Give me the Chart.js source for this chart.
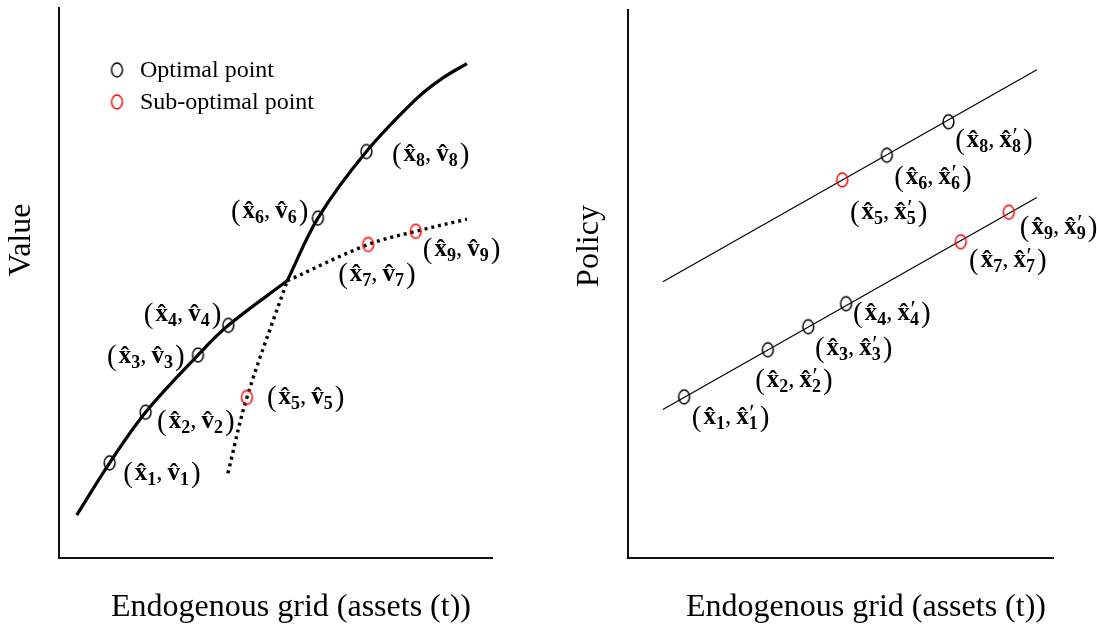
<!DOCTYPE html>
<html>
<head>
<meta charset="utf-8">
<title>Endogenous grid: value and policy</title>
<script src="https://cdn.jsdelivr.net/npm/chart.js@4.4.1/dist/chart.umd.min.js"></script>
<style>
  html, body { margin: 0; padding: 0; background: #fff; }
  #wrap { position: relative; width: 1097px; height: 629px; }
  .panel { position: absolute; top: 0; height: 629px; }
  #value-panel { left: 0; width: 560px; }
  #policy-panel { left: 560px; width: 537px; }
</style>
</head>
<body>
<div id="wrap">
  <div class="panel" id="value-panel"><canvas id="value-chart"></canvas></div>
  <div class="panel" id="policy-panel"><canvas id="policy-chart"></canvas></div>
</div>
<script>
// Value panel: the two solid branches of the upper envelope
const valueLowX = [0.41, 1.17, 2.00, 3.21, 3.91, 5.27];
const valueLowY = [0.78, 1.73, 2.65, 3.69, 4.23, 5.04];
const valueHighX = [5.27, 5.98, 7.10, 8.27, 8.85, 9.42];
const valueHighY = [5.04, 6.18, 7.39, 8.36, 8.72, 8.99];
// ...and the dotted (dominated) continuations
const valueSteepX = [3.90, 4.34, 5.27];
const valueSteepY = [1.54, 2.92, 5.04];
const valueFlatX = [5.27, 7.14, 8.24, 9.42];
const valueFlatY = [5.04, 5.70, 5.94, 6.16];

// grid points on the value panel
const valueOptIdx = [1, 2, 3, 4, 6, 8];
const valueOptX = [1.17, 2.00, 3.21, 3.91, 5.98, 7.10];
const valueOptY = [1.73, 2.65, 3.69, 4.23, 6.18, 7.39];
const valueSubIdx = [5, 7, 9];
const valueSubX = [4.34, 7.14, 8.24];
const valueSubY = [2.92, 5.70, 5.94];

// Policy panel: two parallel policy lines
const policyUpperX = [0.82, 9.62];
const policyUpperY = [5.04, 8.91];
const policyLowerX = [0.82, 9.62];
const policyLowerY = [2.71, 6.58];

const policyOptIdx = [1, 2, 3, 4, 6, 8];
const policyOptX = [1.32, 3.29, 4.24, 5.13, 6.09, 7.54];
const policyOptY = [2.94, 3.80, 4.22, 4.64, 7.35, 7.96];
const policySubIdx = [5, 7, 9];
const policySubX = [5.04, 7.83, 8.96];
const policySubY = [6.90, 5.77, 6.31];

const legendNames = ['Optimal point', 'Sub-optimal point'];
const xTitle = 'Endogenous grid (assets (t))';

const serif = '"Liberation Serif", "Times New Roman", serif';
const ink = '#000';
const red = '#ff0000';

const pts = (xs, ys) => xs.map((x, i) => ({ x, y: ys[i] }));

// hollow ellipse used as the point marker
function ringMarker(color) {
    const c = document.createElement('canvas');
    c.width = 15;
    c.height = 18;
    const g = c.getContext('2d');
    g.strokeStyle = color;
    g.lineWidth = 1.5;
    g.beginPath();
    g.ellipse(7.5, 9, 5.4, 6.9, 0, 0, Math.PI * 2);
    g.stroke();
    return c;
}
const ringBlack = ringMarker(ink);
const ringRed = ringMarker(red);

// "(x̂n, v̂n)" style tag, drawn piece by piece
function drawTag(ctx, x, y, n, letter, prime) {
    const base = y + 7;
    let cx = x;
    ctx.save();
    ctx.fillStyle = ink;
    ctx.textBaseline = 'alphabetic';
    ctx.textAlign = 'left';
    const put = (txt, font, dy) => {
        ctx.font = font;
        ctx.fillText(txt, cx, base + dy);
        cx += ctx.measureText(txt).width;
    };
    const hatted = (ch) => {
        ctx.font = 'bold 25px ' + serif;
        const w = ctx.measureText(ch).width;
        ctx.fillText(ch, cx, base);
        ctx.textAlign = 'center';
        ctx.fillText('\u02C6', cx + w / 2, base + 1);
        ctx.textAlign = 'left';
        cx += w;
    };
    const sub = 'bold 18px ' + serif;
    put('(', '29px ' + serif, 2);
    cx += 2;
    hatted('x');
    put(String(n), sub, 5);
    put(',', '25px ' + serif, 0);
    cx += 5;
    hatted(letter);
    if (prime) {
        ctx.font = '24px ' + serif;
        ctx.fillText('\u2032', cx + 0.5, base - 4);
    }
    put(String(n), sub, 5);
    cx += 2;
    put(')', '29px ' + serif, 2);
    ctx.restore();
}

const pointTags = {
    id: 'pointTags',
    afterDatasetsDraw(chart, args, opts) {
        chart.data.datasets.forEach((ds, di) => {
            if (!ds.tagIdx) return;
            chart.getDatasetMeta(di).data.forEach((pt, i) => {
                const n = ds.tagIdx[i];
                const off = opts.offsets[n];
                drawTag(chart.ctx, pt.x + off[0], pt.y + off[1], n, opts.letter, opts.prime);
            });
        });
    }
};

// axis titles and the inline legend
const panelText = {
    id: 'panelText',
    afterDraw(chart, args, opts) {
        const ctx = chart.ctx;
        ctx.save();
        ctx.fillStyle = ink;
        ctx.textBaseline = 'middle';
        ctx.textAlign = 'center';
        ctx.font = '32px ' + serif;
        ctx.fillText(xTitle, opts.xTitleAt[0], opts.xTitleAt[1]);
        ctx.translate(opts.yTitleAt[0], opts.yTitleAt[1]);
        ctx.rotate(-Math.PI / 2);
        ctx.font = '32px ' + serif;
        ctx.fillText(opts.yTitle, 0, 0);
        ctx.restore();

        if (!opts.legendAt) return;
        ctx.save();
        ctx.fillStyle = ink;
        ctx.textBaseline = 'middle';
        ctx.font = '24px ' + serif;
        const [lx, ly] = opts.legendAt;
        [ringBlack, ringRed].forEach((img, i) => {
            const y = ly + i * 32;
            ctx.drawImage(img, lx - img.width / 2, y - img.height / 2);
            ctx.fillText(legendNames[i], lx + 23, y + 1);
        });
        ctx.restore();
    }
};

function axes() {
    const edge = { display: true, color: '#111', width: 2 };
    const common = {
        type: 'linear', min: 0, max: 10,
        ticks: { display: false },
        grid: { display: false, drawTicks: false },
        border: edge
    };
    return { x: { ...common }, y: { ...common } };
}

function lineSet(xs, ys, width, dash) {
    return {
        data: pts(xs, ys),
        showLine: true,
        borderColor: ink,
        borderWidth: width,
        borderDash: dash || [],
        borderCapStyle: 'butt',
        tension: 0.35,
        pointRadius: 0,
        fill: false
    };
}

function markSet(xs, ys, idx, img) {
    return {
        data: pts(xs, ys),
        tagIdx: idx,
        showLine: false,
        pointStyle: img,
        pointRadius: 7
    };
}

document.addEventListener('DOMContentLoaded', () => {
    if (typeof Chart === 'undefined') {
        console.error('Chart.js not loaded');
        return;
    }
    Chart.defaults.font.family = serif;
    createValueChart();
    createPolicyChart();
});

function createValueChart() {
    new Chart(document.getElementById('value-chart'), {
        type: 'scatter',
        data: {
            datasets: [
                markSet(valueOptX, valueOptY, valueOptIdx, ringBlack),
                markSet(valueSubX, valueSubY, valueSubIdx, ringRed),
                lineSet(valueLowX, valueLowY, 3.2),
                lineSet(valueHighX, valueHighY, 3.2),
                lineSet(valueSteepX, valueSteepY, 3.4, [3, 4]),
                lineSet(valueFlatX, valueFlatY, 3.4, [3, 4])
            ]
        },
        options: {
            responsive: true,
            maintainAspectRatio: false,
            animation: false,
            events: [],
            layout: { padding: { left: 59, right: 68, top: 6, bottom: 71 } },
            scales: axes(),
            plugins: {
                legend: { display: false },
                tooltip: { enabled: false },
                pointTags: {
                    letter: 'v',
                    prime: false,
                    offsets: {
                        1: [13.5, 10.5], 2: [11.5, 8.5], 3: [-91, 0.5],
                        4: [-84.5, -11.5], 5: [20, 0], 6: [-87, -7],
                        7: [-30, 29.5], 8: [25.5, 2], 9: [7, 18]
                    }
                },
                panelText: {
                    xTitleAt: [291, 608],
                    yTitleAt: [22, 240],
                    yTitle: 'Value',
                    legendAt: [117, 70]
                }
            }
        },
        plugins: [pointTags, panelText]
    });
}

function createPolicyChart() {
    new Chart(document.getElementById('policy-chart'), {
        type: 'scatter',
        data: {
            datasets: [
                markSet(policyOptX, policyOptY, policyOptIdx, ringBlack),
                markSet(policySubX, policySubY, policySubIdx, ringRed),
                lineSet(policyUpperX, policyUpperY, 1.2),
                lineSet(policyLowerX, policyLowerY, 1.2)
            ]
        },
        options: {
            responsive: true,
            maintainAspectRatio: false,
            animation: false,
            events: [],
            layout: { padding: { left: 68, right: 44, top: 10, bottom: 71 } },
            scales: axes(),
            plugins: {
                legend: { display: false },
                tooltip: { enabled: false },
                pointTags: {
                    letter: 'x',
                    prime: true,
                    offsets: {
                        1: [7.7, 20], 2: [-12.7, 30], 3: [6.7, 21],
                        4: [7, 9], 5: [7.7, 32], 6: [7.3, 22],
                        7: [8.3, 18], 8: [6.7, 18], 9: [11, 15]
                    }
                },
                panelText: {
                    xTitleAt: [306, 608],
                    yTitleAt: [30, 246],
                    yTitle: 'Policy'
                }
            }
        },
        plugins: [pointTags, panelText]
    });
}
</script>
</body>
</html>
